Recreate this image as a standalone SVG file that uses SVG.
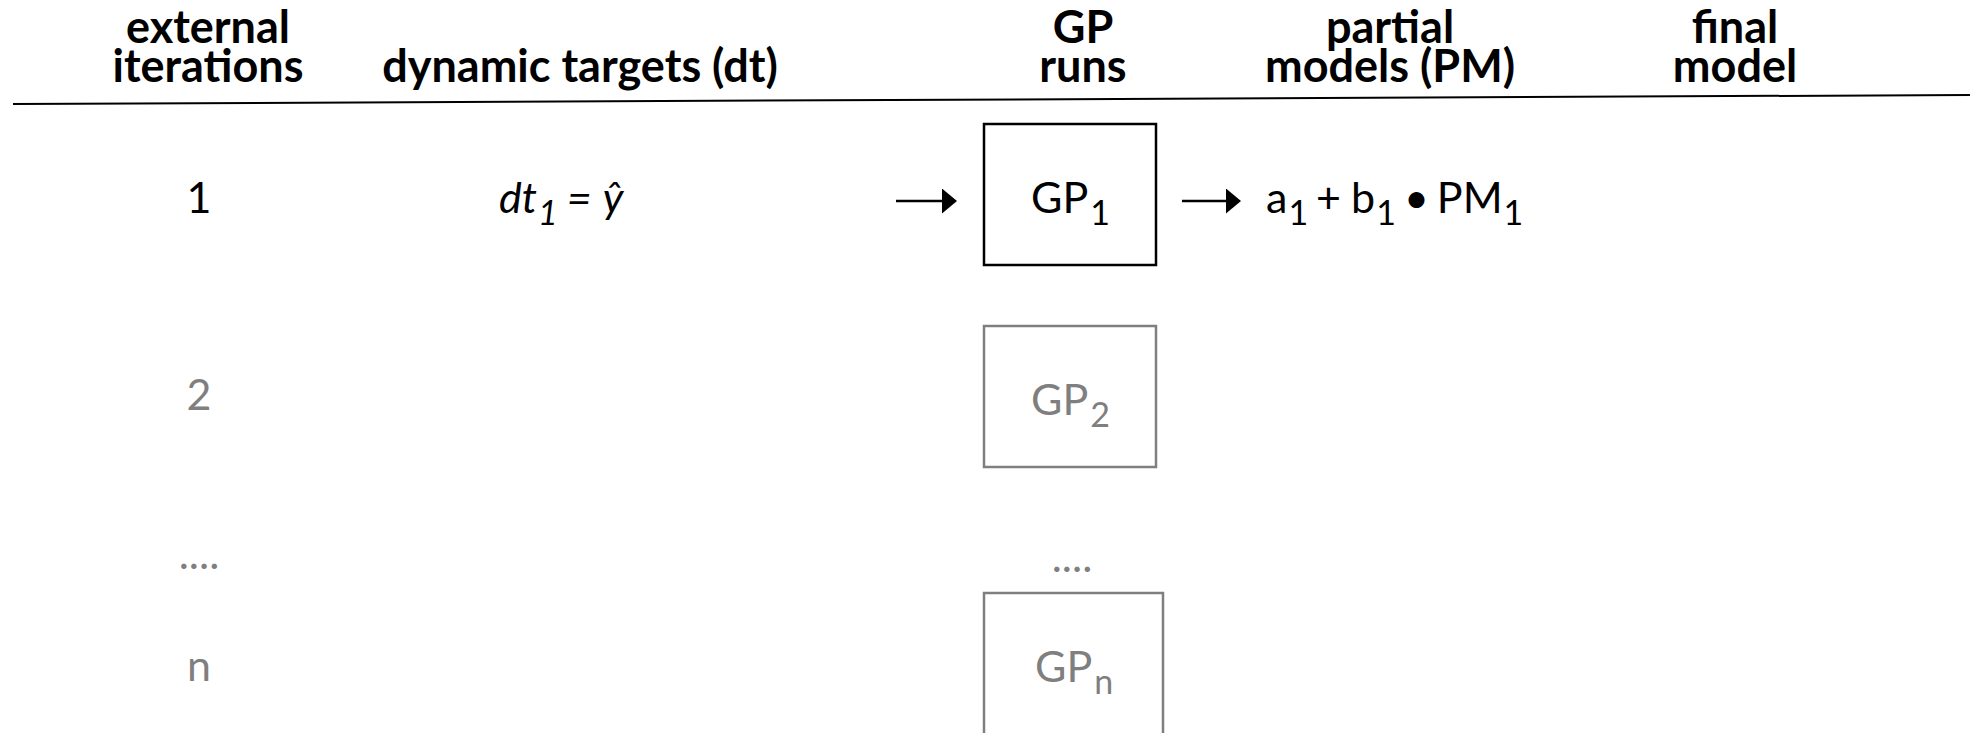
<svg xmlns="http://www.w3.org/2000/svg" width="1970" height="733" viewBox="0 0 1970 733">
  <style>
    .hdr { font-family: Lato, "Open Sans", sans-serif; font-weight: bold; font-size: 45px; fill: #000; text-anchor: middle; }
    .txt { font-family: Lato, "Open Sans", sans-serif; font-size: 43px; fill: #000; }
    .sub { font-size: 34px; }
    .it { font-style: italic; }
    .gray { fill: #7f7f7f; }
    .box { fill: none; stroke: #000; stroke-width: 2.5; }
    .box.gray { fill: none; stroke: #7f7f7f; }
    .conn { stroke: #000; stroke-width: 2.7; fill: none; }
  </style>
  <defs>
    <marker id="ah" markerUnits="userSpaceOnUse" markerWidth="15" markerHeight="25" refX="2" refY="12.5" orient="auto">
      <path d="M0,0 L15,12.5 L0,25 Z" fill="#000"/>
    </marker>
  </defs>

  <rect width="1970" height="733" fill="#fff"/>

  <!-- column headings -->
  <g id="headers">
    <text class="hdr" x="208" y="43">external</text>
    <text class="hdr" x="208" y="82">iterations</text>
    <text class="hdr" x="580" y="82">dynamic targets (dt)</text>
    <text class="hdr" x="1083" y="43">GP</text>
    <text class="hdr" x="1083" y="82">runs</text>
    <text class="hdr" x="1390" y="43">partial</text>
    <text class="hdr" x="1390" y="82">models (PM)</text>
    <text class="hdr" x="1735" y="43">final</text>
    <text class="hdr" x="1735" y="82">model</text>
    <line x1="13" y1="104" x2="1970" y2="95" stroke="#000" stroke-width="2"/>
  </g>

  <!-- iteration indices -->
  <g id="iterations">
    <text class="txt" x="199" y="213" text-anchor="middle">1</text>
    <text class="txt gray" x="199" y="410" text-anchor="middle">2</text>
    <text class="txt gray" x="199" y="569" text-anchor="middle">....</text>
    <text class="txt gray" x="199" y="681" text-anchor="middle">n</text>
  </g>

  <!-- dynamic target of the first iteration -->
  <g id="dt1">
    <text class="txt it" x="499" y="213">dt<tspan class="sub" dx="1" dy="12">1</tspan><tspan dx="9" dy="-12">=</tspan><tspan dx="11">ŷ</tspan></text>
  </g>

  <!-- GP runs -->
  <g id="gp1">
    <rect class="box" x="984" y="124" width="172" height="141"/>
    <text class="txt" x="1031" y="213">GP<tspan class="sub" dx="2" dy="12">1</tspan></text>
  </g>
  <g id="gp2">
    <rect class="box gray" x="984" y="326" width="172" height="141"/>
    <text class="txt gray" x="1031" y="415">GP<tspan class="sub" dx="2" dy="12">2</tspan></text>
  </g>
  <g id="gp-dots">
    <text class="txt gray" x="1072" y="572" text-anchor="middle">....</text>
  </g>
  <g id="gpn">
    <rect class="box gray" x="984" y="593" width="179" height="160"/>
    <text class="txt gray" x="1035" y="682">GP<tspan class="sub" dx="2" dy="12">n</tspan></text>
  </g>

  <!-- partial model of the first run -->
  <g id="pm1">
    <text class="txt" x="1266" y="213">a<tspan class="sub" dx="1" dy="12">1</tspan><tspan dx="8" dy="-12">+</tspan><tspan dx="10">b</tspan><tspan class="sub" dx="1" dy="12">1</tspan><tspan dx="8" dy="-12">•</tspan><tspan dx="8">PM</tspan><tspan class="sub" dx="1" dy="12">1</tspan></text>
  </g>

  <!-- connectors -->
  <g id="connectors">
    <line class="conn" x1="896" y1="201" x2="944" y2="201" marker-end="url(#ah)"/>
    <line class="conn" x1="1182" y1="201" x2="1228" y2="201" marker-end="url(#ah)"/>
  </g>
</svg>
